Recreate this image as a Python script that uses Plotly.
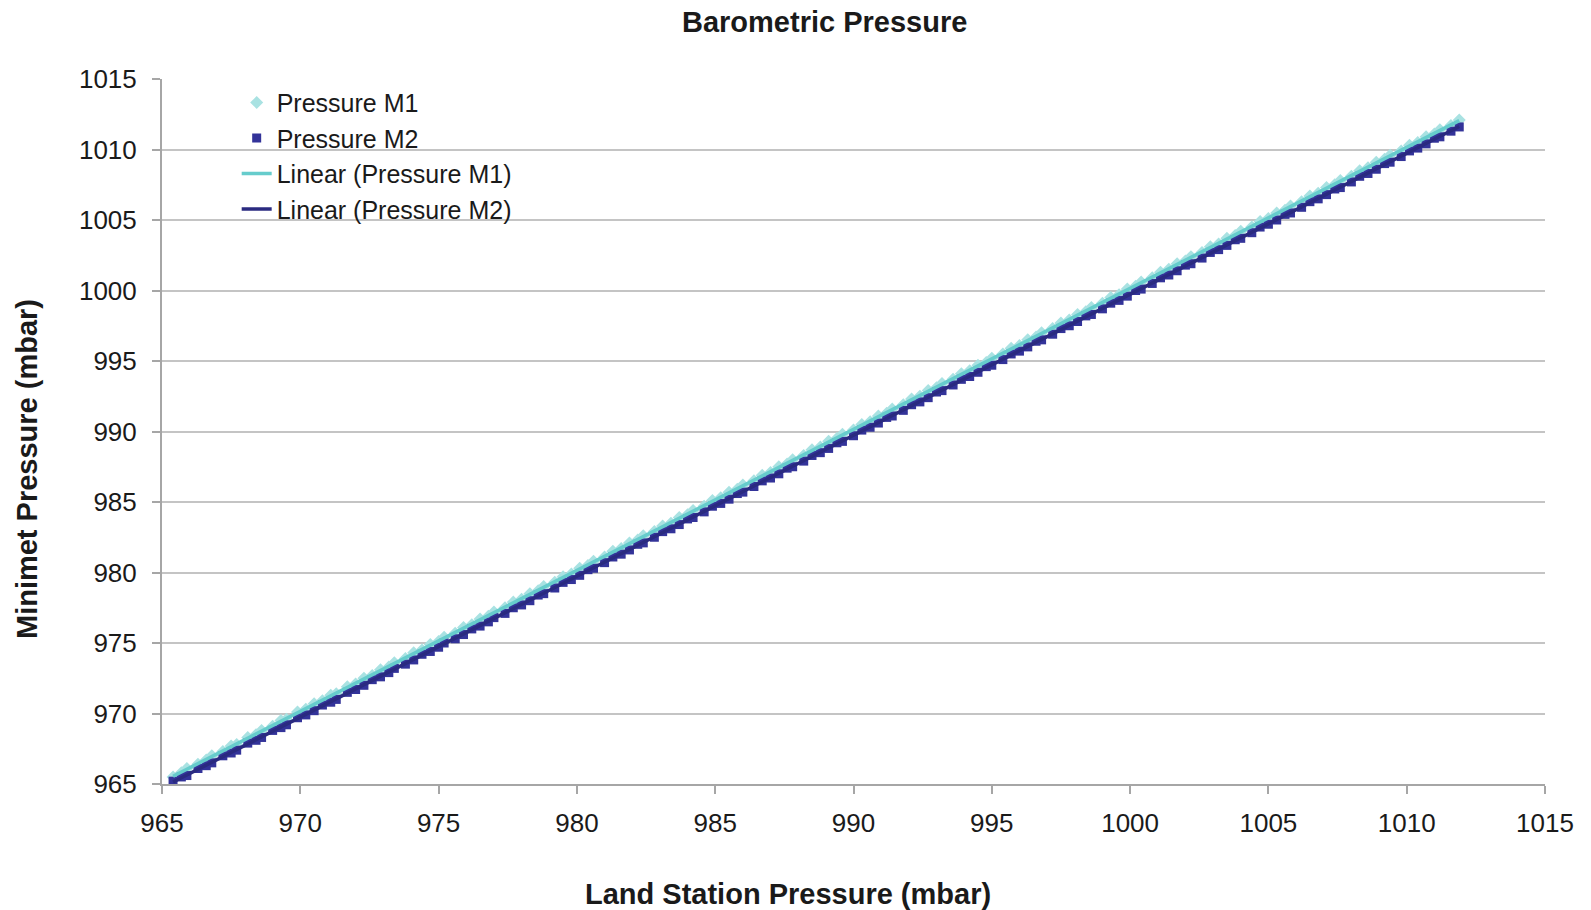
import numpy as np
import plotly.graph_objects as go

land_station = [
    965.4, 965.7, 965.9, 966.3, 966.6, 966.8, 967.2, 967.5, 967.7, 968.1,
    968.4, 968.6, 969.0, 969.3, 969.5, 969.9, 970.2, 970.5, 970.8, 971.1,
    971.3, 971.7, 972.0, 972.3, 972.6, 972.9, 973.2, 973.4, 973.8, 974.1,
    974.4, 974.7, 975.0, 975.2, 975.6, 975.9, 976.2, 976.5, 976.8, 977.0,
    977.4, 977.7, 978.0, 978.3, 978.6, 978.8, 979.2, 979.5, 979.8, 980.1,
    980.4, 980.6, 981.0, 981.3, 981.6, 981.9, 982.2, 982.4, 982.8, 983.1,
    983.4, 983.7, 984.0, 984.2, 984.6, 984.9, 985.2, 985.5, 985.8, 986.0,
    986.4, 986.7, 987.0, 987.3, 987.6, 987.8, 988.2, 988.5, 988.8, 989.1,
    989.4, 989.6, 990.0, 990.3, 990.6, 990.9, 991.2, 991.4, 991.8, 992.1,
    992.4, 992.7, 993.0, 993.2, 993.6, 993.9, 994.2, 994.5, 994.8, 995.0,
    995.4, 995.7, 996.0, 996.3, 996.6, 996.8, 997.2, 997.5, 997.8, 998.1,
    998.4, 998.6, 999.0, 999.3, 999.6, 999.9, 1000.2, 1000.4, 1000.8, 1001.1,
    1001.4, 1001.7, 1002.0, 1002.2, 1002.6, 1002.9, 1003.2, 1003.5, 1003.8, 1004.0,
    1004.4, 1004.7, 1005.0, 1005.3, 1005.6, 1005.8, 1006.2, 1006.5, 1006.8, 1007.1,
    1007.4, 1007.6, 1008.0, 1008.3, 1008.6, 1008.9, 1009.2, 1009.4, 1009.8, 1010.1,
    1010.4, 1010.7, 1011.0, 1011.2, 1011.6, 1011.9,
]

pressure_m1 = [
    965.5, 965.8, 966.1, 966.4, 966.7, 967.0, 967.3, 967.7, 967.8, 968.3,
    968.5, 968.8, 969.1, 969.5, 969.6, 970.1, 970.3, 970.7, 970.9, 971.3,
    971.4, 971.9, 972.1, 972.5, 972.7, 973.1, 973.3, 973.6, 973.9, 974.3,
    974.5, 974.9, 975.1, 975.4, 975.7, 976.1, 976.3, 976.7, 976.9, 977.2,
    977.5, 977.9, 978.1, 978.5, 978.7, 979.0, 979.3, 979.7, 979.9, 980.3,
    980.5, 980.8, 981.1, 981.5, 981.7, 982.1, 982.3, 982.6, 982.9, 983.3,
    983.5, 983.9, 984.1, 984.4, 984.7, 985.1, 985.3, 985.7, 985.9, 986.2,
    986.5, 986.9, 987.1, 987.5, 987.7, 988.0, 988.3, 988.7, 988.9, 989.3,
    989.5, 989.8, 990.1, 990.5, 990.7, 991.1, 991.3, 991.6, 991.9, 992.3,
    992.5, 992.9, 993.1, 993.4, 993.7, 994.1, 994.3, 994.7, 994.9, 995.2,
    995.5, 995.9, 996.1, 996.5, 996.7, 997.0, 997.3, 997.7, 997.9, 998.3,
    998.5, 998.8, 999.1, 999.5, 999.7, 1000.1, 1000.3, 1000.6, 1000.9, 1001.3,
    1001.5, 1001.9, 1002.1, 1002.4, 1002.7, 1003.1, 1003.3, 1003.7, 1003.9, 1004.2,
    1004.5, 1004.9, 1005.1, 1005.5, 1005.7, 1006.0, 1006.3, 1006.7, 1006.9, 1007.3,
    1007.5, 1007.8, 1008.1, 1008.5, 1008.7, 1009.1, 1009.3, 1009.6, 1009.9, 1010.3,
    1010.5, 1010.9, 1011.1, 1011.4, 1011.7, 1012.1,
]

pressure_m2 = [
    965.2, 965.5, 965.6, 966.1, 966.3, 966.5, 967.0, 967.2, 967.4, 967.9,
    968.1, 968.3, 968.8, 969.0, 969.2, 969.7, 969.9, 970.2, 970.6, 970.8,
    971.0, 971.5, 971.7, 972.0, 972.4, 972.6, 972.9, 973.2, 973.5, 973.8,
    974.2, 974.4, 974.7, 975.0, 975.3, 975.6, 976.0, 976.2, 976.5, 976.8,
    977.1, 977.5, 977.7, 978.0, 978.4, 978.5, 978.9, 979.3, 979.5, 979.8,
    980.2, 980.3, 980.7, 981.1, 981.3, 981.6, 982.0, 982.1, 982.5, 982.9,
    983.1, 983.4, 983.8, 983.9, 984.3, 984.7, 984.9, 985.2, 985.6, 985.7,
    986.1, 986.5, 986.7, 987.0, 987.4, 987.5, 987.9, 988.3, 988.5, 988.8,
    989.2, 989.3, 989.7, 990.1, 990.3, 990.6, 991.0, 991.1, 991.5, 991.9,
    992.1, 992.4, 992.8, 992.9, 993.3, 993.7, 993.9, 994.2, 994.6, 994.7,
    995.1, 995.5, 995.7, 996.0, 996.4, 996.5, 996.9, 997.3, 997.5, 997.8,
    998.2, 998.3, 998.7, 999.1, 999.3, 999.6, 1000.0, 1000.1, 1000.5, 1000.9,
    1001.1, 1001.4, 1001.8, 1001.9, 1002.3, 1002.7, 1002.9, 1003.2, 1003.6, 1003.7,
    1004.1, 1004.5, 1004.7, 1005.0, 1005.4, 1005.5, 1005.9, 1006.3, 1006.5, 1006.8,
    1007.2, 1007.3, 1007.7, 1008.1, 1008.3, 1008.6, 1009.0, 1009.1, 1009.5, 1009.9,
    1010.1, 1010.4, 1010.8, 1010.9, 1011.3, 1011.6,
]

tick_values = [965, 970, 975, 980, 985, 990, 995, 1000, 1005, 1010, 1015]

FONT = "Liberation Sans, Arial, sans-serif"
C_M1_MARK = "#a9e2e2"
C_M2_MARK = "#333399"
C_M1_LINE = "#66cccc"
C_M2_LINE = "#2a2a80"

x = np.array(land_station)
x_fit = np.array([x.min(), x.max()])
fit1 = np.polyfit(x, np.array(pressure_m1), 1)
fit2 = np.polyfit(x, np.array(pressure_m2), 1)

fig = go.Figure()
fig.add_trace(go.Scatter(
    x=land_station, y=pressure_m1, mode="markers", name="Pressure M1",
    marker=dict(symbol="diamond", size=10, color=C_M1_MARK, line=dict(width=0)),
))
fig.add_trace(go.Scatter(
    x=land_station, y=pressure_m2, mode="markers", name="Pressure M2",
    marker=dict(symbol="square", size=9, color=C_M2_MARK, line=dict(width=0)),
))
fig.add_trace(go.Scatter(
    x=x_fit, y=np.polyval(fit1, x_fit), mode="lines", name="Linear (Pressure M1)",
    line=dict(color=C_M1_LINE, width=3.5),
))
fig.add_trace(go.Scatter(
    x=x_fit, y=np.polyval(fit2, x_fit), mode="lines", name="Linear (Pressure M2)",
    line=dict(color=C_M2_LINE, width=3.5),
))

axis_common = dict(
    range=[965, 1015], tickvals=tick_values, showline=True, linecolor="#a6a6a6",
    linewidth=2, ticks="outside", ticklen=8, tickcolor="#a6a6a6", tickwidth=2,
    tickfont=dict(family=FONT, size=26, color="#1a1a1a"), zeroline=False,
)

fig.update_layout(
    width=1591, height=910,
    margin=dict(l=162, r=46, t=79, b=126),
    paper_bgcolor="white", plot_bgcolor="white",
    font=dict(family=FONT, color="#1a1a1a"),
    showlegend=True,
    legend=dict(
        x=0.054, y=0.999, xanchor="left", yanchor="top",
        bgcolor="rgba(255,255,255,0)", borderwidth=0,
        font=dict(family=FONT, size=25, color="#1a1a1a"),
        tracegroupgap=0,
    ),
    xaxis=dict(**axis_common, showgrid=False, ticklabelstandoff=7),
    yaxis=dict(**axis_common, showgrid=True, gridcolor="#c4c4c4", gridwidth=2,
               ticklabelstandoff=10),
    annotations=[
        dict(text="<b>Barometric Pressure</b>", xref="paper", yref="paper",
             x=0.479, y=1.081, xanchor="center", yanchor="middle", showarrow=False,
             font=dict(family=FONT, size=29, color="#1a1a1a")),
        dict(text="<b>Land Station Pressure (mbar)</b>", xref="paper", yref="paper",
             x=0.4527, y=-0.156, xanchor="center", yanchor="middle", showarrow=False,
             font=dict(family=FONT, size=29, color="#1a1a1a")),
        dict(text="<b>Minimet Pressure (mbar)</b>", xref="paper", yref="paper",
             x=-0.0976, y=0.4468, xanchor="center", yanchor="middle", showarrow=False,
             textangle=-90, font=dict(family=FONT, size=29, color="#1a1a1a")),
    ],
)

fig.write_html("out.html")
